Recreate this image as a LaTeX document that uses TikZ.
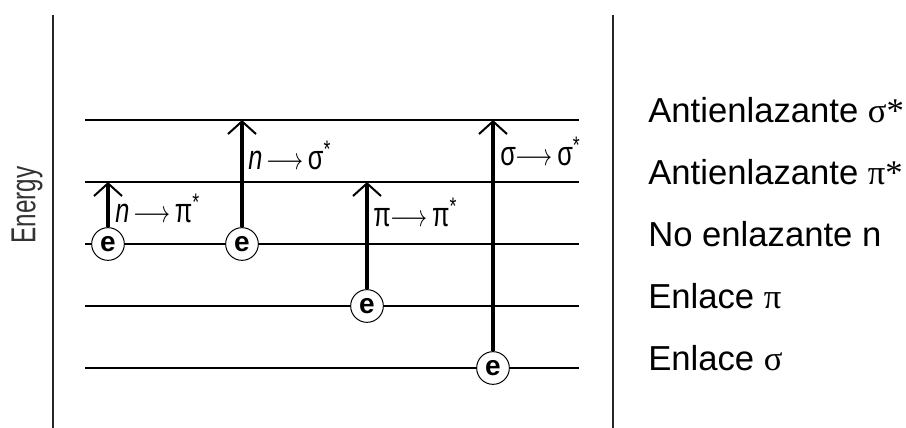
\documentclass[tikz,border=0pt]{standalone}
\usepackage{fontspec}
\usepackage{graphicx}
\setmainfont{Liberation Sans}
\newfontfamily\serifgr{Liberation Serif}
\usetikzlibrary{arrows.meta}
\begin{document}
\begin{tikzpicture}[x=0.75pt,y=-0.75pt,
  frame/.style={line width=1.5pt,black!85},
  level/.style={line width=1.1pt},
  elec/.style={circle,draw,line width=0.75pt,fill=white,minimum size=24.5pt,inner sep=0pt,font=\fontsize{21}{21}\selectfont\bfseries},
  trans/.style={line width=2.4pt,-{Straight Barb[length=9.5pt,width=21pt,line width=1.5pt]}},
  tlabel/.style={anchor=base west,inner sep=0pt,font=\fontsize{19}{19}\selectfont},
  rlabel/.style={anchor=base west,inner sep=0pt,font=\fontsize{26}{26}\selectfont}]
\useasboundingbox (0,0) rectangle (906,428);
% frame lines
\coordinate (fl1) at (53,15); \coordinate (fl2) at (53,428);
\coordinate (fr1) at (613,15); \coordinate (fr2) at (613,428);
\draw[frame] (fl1) -- (fl2);
\draw[frame] (fr1) -- (fr2);
% energy label
\node[rotate=90,inner sep=0pt,text=black!80,font=\fontsize{26}{26}\selectfont] (energy) at (27,205) {\scalebox{0.7}[1]{Energy}};
% levels
\foreach \i/\y in {1/120,2/182,3/244,4/306,5/368}{
  \coordinate (a\i) at (85,\y);
  \coordinate (b\i) at (579,\y);
  \draw[level] (a\i) -- (b\i);
}
% electrons
\node[elec] (e1) at (108,244) {e};
\node[elec] (e2) at (242,244) {e};
\node[elec] (e3) at (367,306) {e};
\node[elec] (e4) at (493,368) {e};
% arrow targets
\coordinate (t1) at (108,182);
\coordinate (t2) at (242,120);
\coordinate (t3) at (367,182);
\coordinate (t4) at (493,120);
\draw[trans] (e1.north) -- (t1);
\draw[trans] (e2.north) -- (t2);
\draw[trans] (e3.north) -- (t3);
\draw[trans] (e4.north) -- (t4);
% transition labels
\node[tlabel] (l1) at (115,222) {\scalebox{1}[1.35]{\textit{n}\,$\longrightarrow$\,π\textsuperscript{*}}};
\node[tlabel] (l2) at (248,169) {\scalebox{1}[1.35]{\textit{n}\,$\longrightarrow$\,σ\textsuperscript{*}}};
\node[tlabel] (l3) at (373,226) {\scalebox{1}[1.35]{π$\longrightarrow$\,π\textsuperscript{*}}};
\node[tlabel] (l4) at (500,165) {\scalebox{1}[1.35]{σ$\longrightarrow$\,σ\textsuperscript{*}}};
% right labels
\node[rlabel] (r1) at (648,122) {Antienlazante {\serifgr σ*}};
\node[rlabel] (r2) at (648,184) {Antienlazante {\serifgr π*}};
\node[rlabel] (r3) at (648,246) {No enlazante n};
\node[rlabel] (r4) at (648,308) {Enlace {\serifgr π}};
\node[rlabel] (r5) at (648,370) {Enlace {\serifgr σ}};
\end{tikzpicture}
\end{document}
